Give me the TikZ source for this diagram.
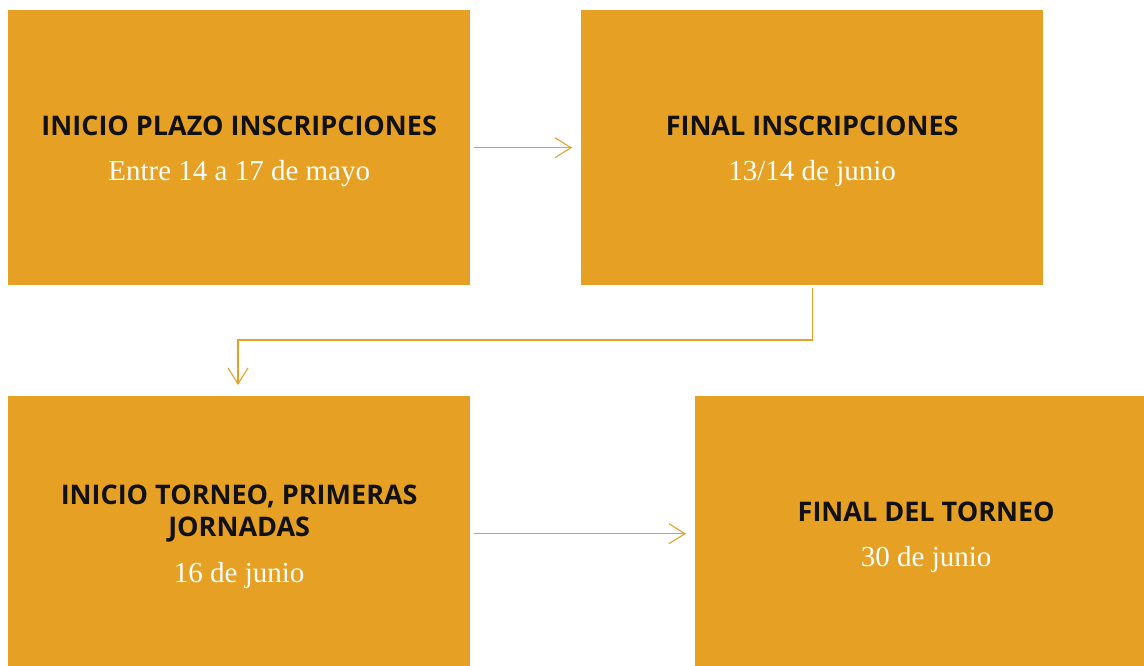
\documentclass[tikz,border=0pt]{standalone}
\usepackage{fontspec}
\setmainfont{Liberation Serif}
\newfontfamily\titlefont{Open Sans}
\usetikzlibrary{arrows.meta}
\definecolor{boxorange}{HTML}{E6A124}
\definecolor{titleblack}{HTML}{111111}
\tikzset{
  stagebox/.style={fill=boxorange, draw=none, minimum width=462pt, minimum height=275pt, inner sep=0pt, anchor=north west},
  stagetext/.style={align=center, inner sep=0pt, font=\fontsize{29}{32}\selectfont},
  flow/.style={draw=boxorange, line width=1.1pt, -{Straight Barb[length=16pt,width=20pt,line width=1.1pt]}}
}
\newcommand{\stagetitle}[1]{{\titlefont\bfseries\fontsize{27}{32}\selectfont\color{titleblack}#1}}
\newcommand{\stagedate}[1]{{\color{white}#1}}
\begin{document}
\begin{tikzpicture}[x=1pt,y=-1pt]
\useasboundingbox (0,0) rectangle (1144,665);
\clip (0,0) rectangle (1144,665);
\node[stagebox] (b1) at (8,10) {};
\node[stagebox] (b2) at (581,10) {};
\node[stagebox] (b3) at (8,396) {};
\node[stagebox] (b4) at (695,396) {};
\node[stagetext] (t1) at ([yshift=-4pt]b1.center) {\stagetitle{INICIO PLAZO INSCRIPCIONES}\\[13pt]\stagedate{Entre 14 a 17 de mayo}};
\node[stagetext] (t2) at ([yshift=-4pt]b2.center) {\stagetitle{FINAL INSCRIPCIONES}\\[13pt]\stagedate{13/14 de junio}};
\node[stagetext] (t3) at ([yshift=-3pt]b3.center) {\stagetitle{INICIO TORNEO, PRIMERAS}\\\stagetitle{JORNADAS}\\[14pt]\stagedate{16 de junio}};
\node[stagetext] (t4) at ([yshift=-4pt]b4.center) {\stagetitle{FINAL DEL TORNEO}\\[13pt]\stagedate{30 de junio}};
\coordinate (bendA) at (b2.south |- 0,340);
\coordinate (bendB) at (238,340);
\draw[flow] ([xshift=4pt]b1.east) -- ([xshift=-9pt]b2.west);
\draw[flow] ([yshift=-3pt]b2.south) -- (bendA) -- (bendB) -- (bendB |- 0,385);
\draw[flow] ([xshift=4pt]b3.east) -- ([xshift=-9pt]b4.west);
\end{tikzpicture}
\end{document}
